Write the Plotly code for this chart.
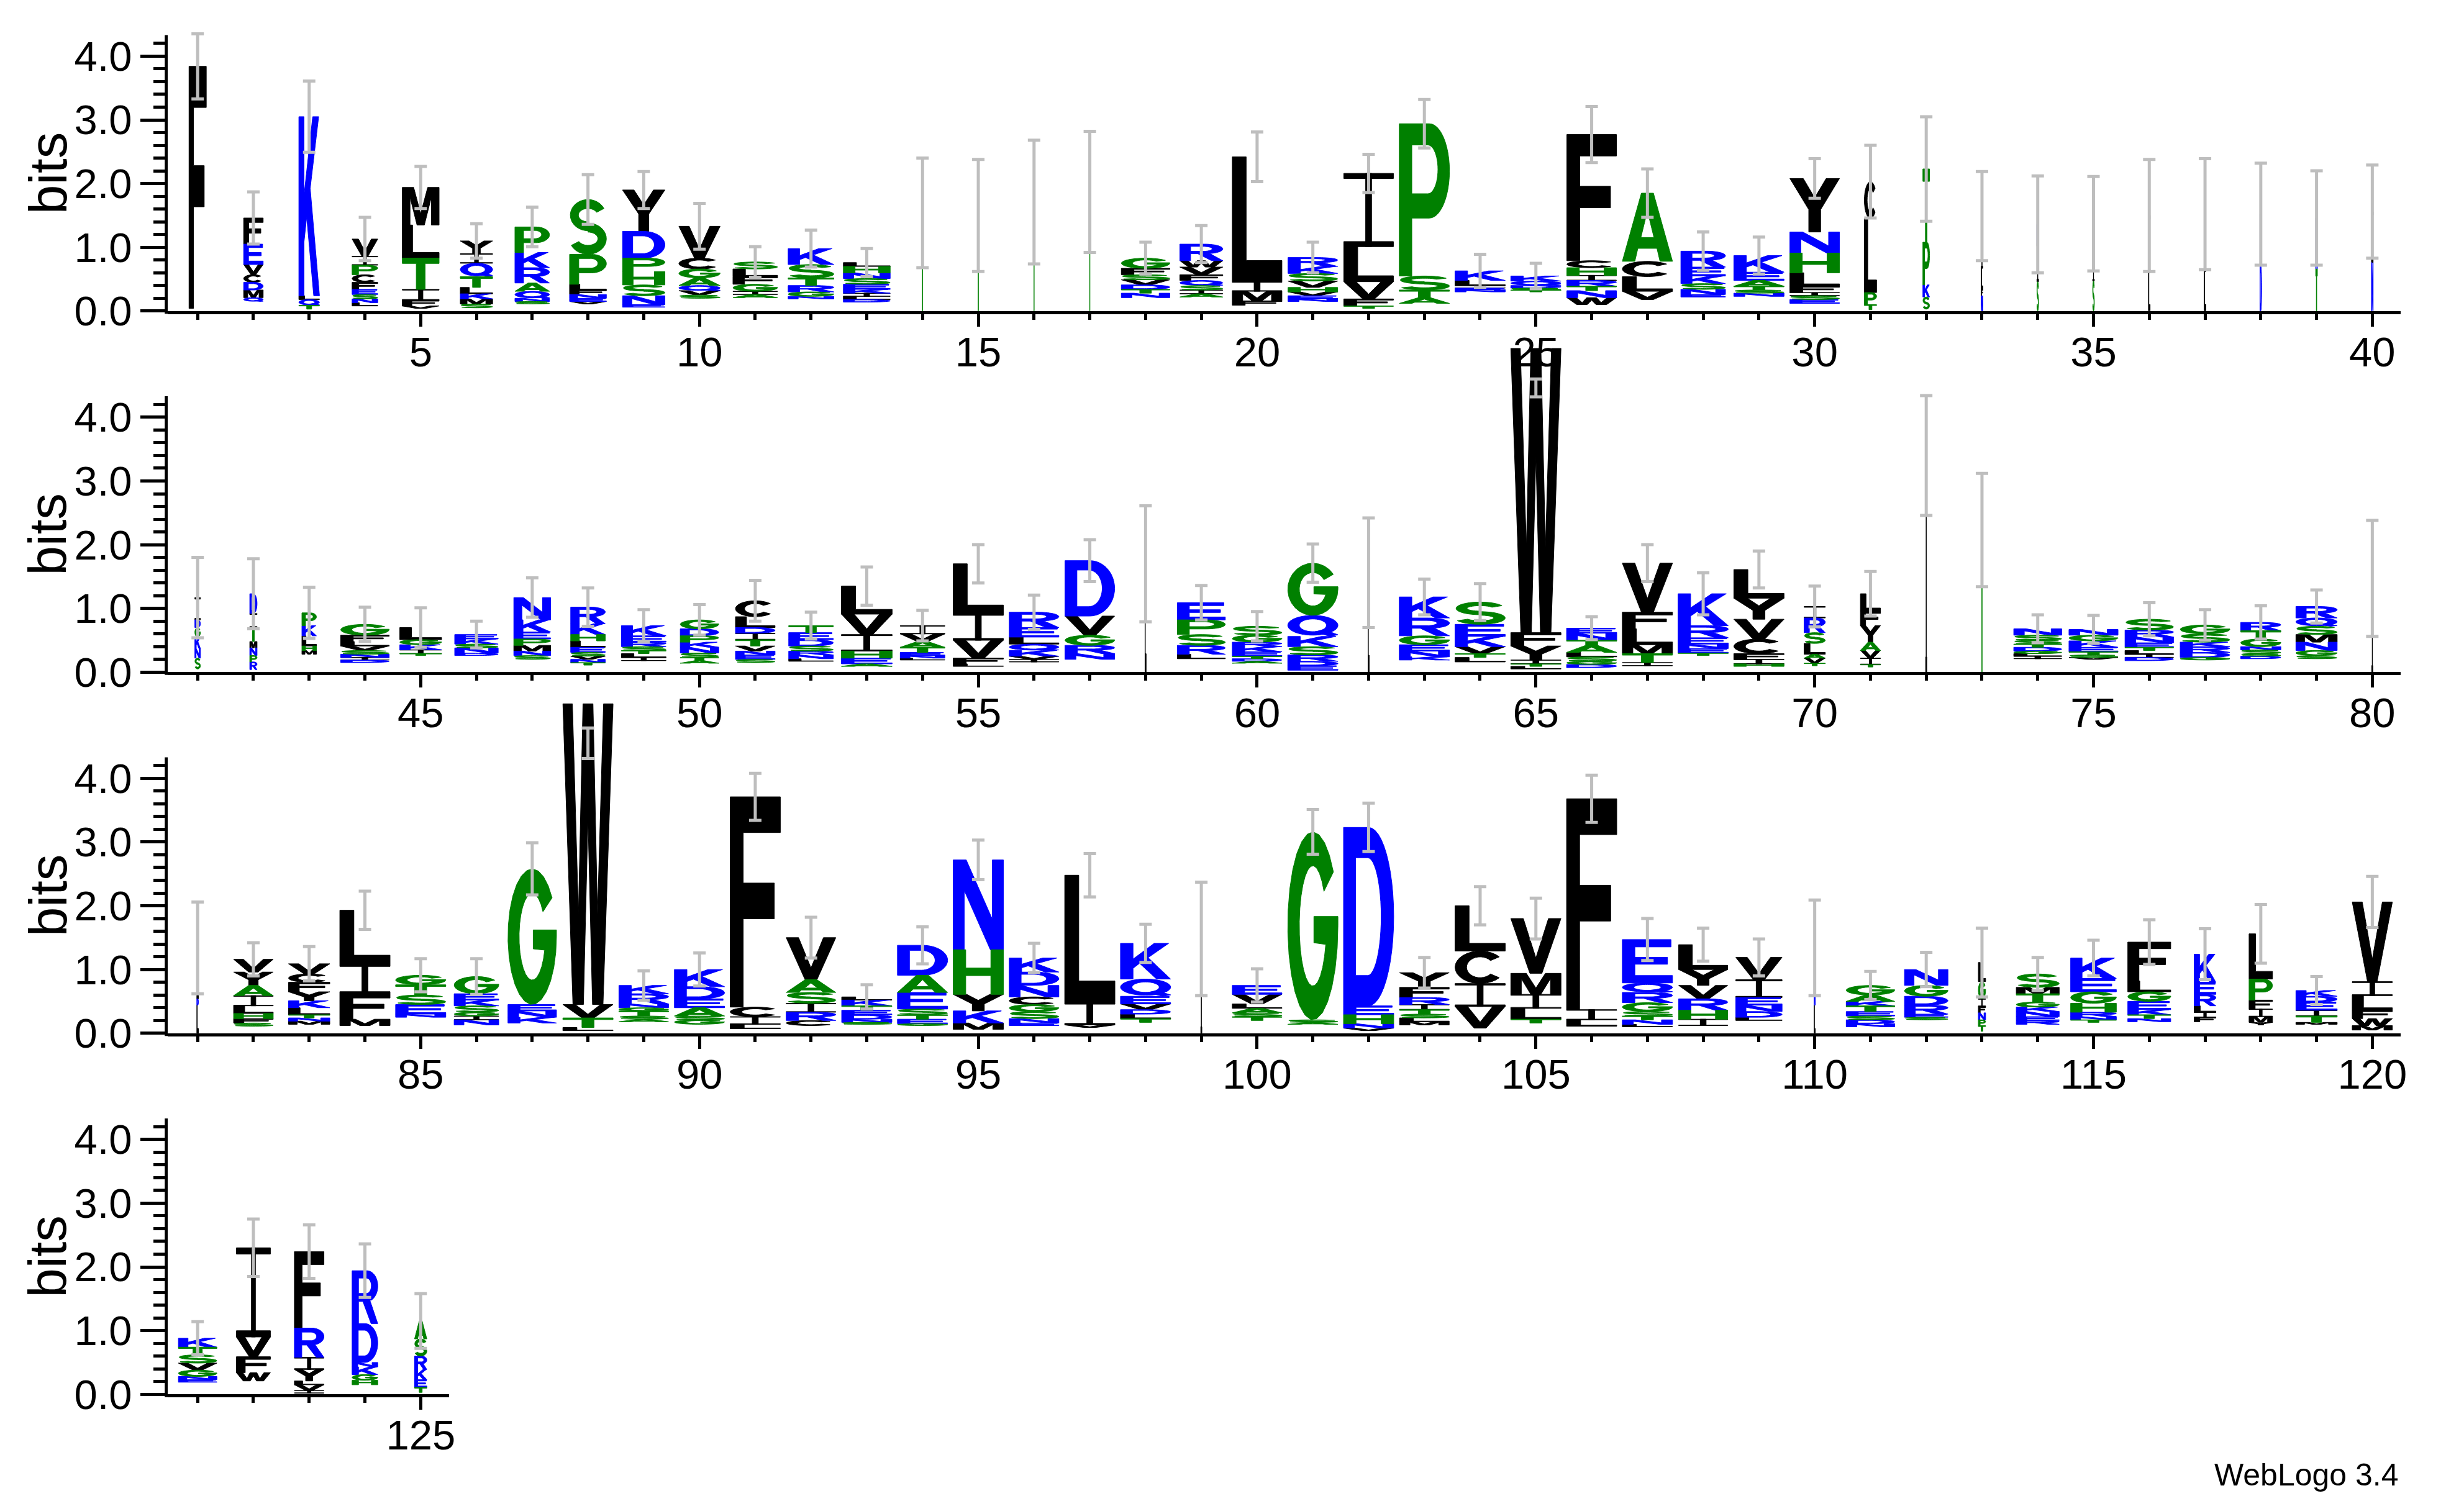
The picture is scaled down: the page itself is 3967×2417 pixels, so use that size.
import math
import plotly.graph_objects as go

# ---------------------------------------------------------------- data
# each stack string lists the letters of one column from top to bottom,
# letter followed by its height in bits
row1_first = 1
row1_info = [3.84, 1.46, 3.05, 1.13, 1.94, 1.10, 1.32, 1.75, 1.90, 1.33,
             0.77, 0.98, 0.76, 1.54, 1.50, 1.71, 1.87, 0.83, 1.05, 2.42,
             0.84, 2.16, 2.94, 0.63, 0.55, 2.77, 1.85, 0.94, 0.87, 2.08,
             2.03, 2.23, 1.49, 1.36, 1.37, 1.50, 1.52, 1.52, 1.46, 1.56]
row1_err = [.51, .41, .56, .34, .33, .27, .31, .39, .29, .36,
            .24, .29, .22, .86, .88, .97, .95, .25, .29, .39,
            .24, .30, .38, .26, .20, .44, .38, .30, .29, .31,
            .57, .82, .70, .76, .74, .88, .87, .80, .74, .73]
row1_width = [.31, .35, .37, .46, .66, .58, .62, .66, .76, .74,
              .80, .82, .84, .02, .02, .02, .02, .87, .77, .89,
              .89, .89, .90, .90, .90, .89, .90, .80, .90, .89,
              .22, .12, .03, .03, .03, .03, .03, .03, .03, .03]
row1_stacks = [
    "F3.80", "F.41 E.32 V.16 C.12 D.12 M.12 Q.06", "K2.81 L.06 Q.09 T.06",
    "V.27 I.14 P.15 C.12 F.11 E.08 S.07 N.06 L.05", "M.59 L.52 T.49 I.17 F.09 V.04",
    "Y.20 I.15 Q.21 T.17 L.10 K.08 M.08 S.06", "P.40 K.24 R.24 A.13 Q.11 N.05 S.04",
    "S.86 P.47 L.09 F.07 N.06 E.05 V.04", "Y.65 D.42 P.21 H.21 S.17 N.14 E.04",
    "V.50 C.17 G.14 A.12 Q.08 V.07 S.05", "S.11 L.12 F.12 G.11 I.05 A.05",
    "K.25 S.21 T.12 R.10 G.07 N.04", "L.06 H.10 N.09 S.09 E.08 K.06 I.05 L.05 D.04",
    "T1.54", "T1.50", "T1.71", "T1.87", "G.16 F.10 S.08 V.08 D.07 T.06 N.07",
    "R.26 W.10 V.12 F.09 Q.08 S.07 I.06 A.05", "L1.96 I.15 M.15 F.07",
    "R.14 K.11 S.12 V.10 H.07 V.06 E.05 N.04", "I1.15 L.55 V.27 F.11 T.04",
    "P2.39 S.22 T.12 A.09", "K.15 L.08 I.04 E.03 N.03", "K.08 Q.07 D.04 S.03 T.03",
    "F1.98 C.11 H.12 I.08 R.09 T.07 N.11 W.11", "A1.07 C.24 L.23 V.13",
    "R.25 E.14 K.12 S.09 N.08 E.04", "K.26 E.13 A.09 T.06 S.05 N.05",
    "Y.84 N.33 H.31 L.21 F.10 I.05 S.06 E.06", "C.58 L1.16 P.19 T.08",
    "T1.15 P.67 K.19 S.19", "T.35 I.47 L.33 F.10 N.24", "N.30 I.60 S.46",
    "T.50 I.40 S.47", "I.90 L.60", "I.90 L.62", "N.80 D.72", "N.80 T.66", "I.80 N.76",
]

row2_first = 41
row2_info = [1.17, 1.23, 0.93, 0.75, 0.70, 0.59, 1.17, 1.02, 0.73, 0.82,
             1.12, 0.73, 1.35, 0.73, 1.70, 0.94, 1.75, 1.70, 1.09, 0.72,
             1.71, 1.56, 1.18, 1.10, 5.08, 0.69, 1.71, 1.23, 1.61, 1.03,
             1.23, 3.40, 2.23, 0.68, 0.67, 0.83, 0.74, 0.78, 1.03, 1.47]
row2_err = [.63, .55, .40, .27, .31, .21, .31, .30, .25, .24,
            .32, .21, .30, .24, .30, .27, .33, .91, .27, .23,
            .30, .86, .28, .29, .14, .18, .29, .33, .29, .32,
            .35, .94, .89, .22, .22, .26, .24, .26, .26, .91]
row2_width = [.10, .13, .26, .87, .75, .78, .66, .62, .80, .69,
              .71, .80, .91, .80, .90, .89, .89, .02, .86, .89,
              .90, .02, .90, .90, .90, .90, .90, .90, .90, .38,
              .36, .02, .02, .86, .88, .87, .89, .72, .74, .02]
row2_stacks = [
    "I.35 D.12 G.15 K.18 N.15 S.17", "D.31 I.22 T.22 M.10 N.12 P.10 R.12",
    "P.20 K.16 L.16 H.07 M.06", "G.17 F.10 L.07 V.07 S.06 N.05 I.04 D.04",
    "L.19 G.08 K.08 I.06 T.03", "E.07 K.08 S.06 N.08 D.04",
    "N.35 K.19 E.11 P.10 M.09 N.07 S.06", "R.26 K.17 H.10 L.10 E.08 S.06 V.05 N.05 T.04",
    "K.16 E.10 R.07 S.06 T.05 L.06 I.05", "G.14 D.11 P.10 K.08 N.09 S.07 T.05 A.04",
    "C.25 L.17 D.09 I.10 T.10 V.08 N.06 E.07 S.05", "T.11 E.11 D.10 S.08 R.06 N.06 L.04",
    "L.44 V.32 I.26 H.11 E.09 A.04", "I.13 V.12 A.09 T.08 E.05 N.04 L.03",
    "L.78 I.42 V.28 F.09 L.04", "R.24 E.15 L.11 Q.10 K.09 V.05 I.04",
    "D.87 V.30 G.16 R.13 N.09", "L1.70", "E.27 P.23 S.17 R.14 L.07",
    "S.14 G.11 R.07 K.08 E.07 T.04 D.04 A.03", "G.82 Q.33 K.16 S.13 R.10 D.07 E.07",
    "L1.56", "K.33 R.28 G.14 E.10 N.09 K.05", "S.35 E.19 K.16 V.11 T.06 L.07",
    "W4.46 F.21 Y.22 I.06 T.04 L.04", "E.08 N.11 T.08 A.11 L.07 S.07 G.05 D.05",
    "V.77 F.26 L.25 M.14 T.14 I.05", "K.50 R.19 E.10 N.07 E.07 T.04",
    "L.45 Y.33 V.31 C.23 F.09 I.07 H.04", "I.18 R.23 S.17 L.17 A.06 V.08 T.04",
    "L.27 F.23 Y.26 A.13 V.12 I.10 T.04", "I3.40", "T2.23",
    "N.10 S.08 S.06 T.05 D.06 G.04 L.04 I.04", "N.09 G.09 K.10 E.07 T.05 S.04 V.03",
    "S.17 R.11 N.09 E.07 T.05 L.06 I.05 D.05", "G.14 S.13 K.07 R.09 D.08 G.04",
    "R.13 T.13 G.12 N.05 S.06 S.04 D.04", "R.18 Q.13 S.13 M.12 N.13 G.08 S.05", "I1.47",
]

row3_first = 81
row3_info = [1.34, 1.16, 1.09, 1.93, 0.91, 0.89, 2.58, 5.17, 0.75, 1.00,
             3.71, 1.50, 0.57, 1.38, 2.72, 1.18, 2.48, 1.41, 1.48, 0.75,
             3.16, 3.23, 0.95, 2.00, 1.80, 3.68, 1.47, 1.39, 1.19, 1.34,
             0.75, 1.00, 1.11, 0.93, 1.18, 1.43, 1.24, 1.56, 0.67, 2.06]
row3_err = [.72, .26, .27, .30, .26, .28, .41, .24, .23, .26,
            .37, .32, .19, .29, .31, .23, .34, .30, .89, .26,
            .35, .38, .24, .30, .32, .37, .33, .26, .29, .75,
            .22, .27, .54, .26, .28, .35, .40, .46, .22, .40]
row3_width = [.03, .71, .74, .90, .90, .80, .87, .90, .89, .90,
              .90, .89, .90, .90, .90, .89, .90, .90, .02, .89,
              .90, .90, .89, .90, .90, .90, .90, .88, .83, .02,
              .87, .78, .13, .77, .82, .77, .39, .42, .74, .72]
row3_stacks = [
    "I.80 D.10 L.44", "V.20 Y.21 A.16 I.16 L.12 H.08 F.07 S.05",
    "V.16 C.13 F.15 Y.14 K.11 L.11 T.05 N.05 M.05", "L.85 I.46 F.40 M.10",
    "G.15 T.16 S.15 E.15 N.05", "G.27 E.10 K.09 S.10 G.06 I.06 N.08",
    "G2.13 E.10 N.10 K.09", "W4.72 V.21 T.15 L.05", "K.13 R.16 N.06 G.05 T.08 S.05 A.04",
    "K.27 D.19 E.14 A.13 S.06 G.07", "F3.30 C.15 I.12 L.07", "V.66 A.20 S.17 I.14 R.13 C.08",
    "L.05 K.09 T.07 E.07 D.07 N.05 S.03", "D.47 A.27 E.26 S.09 T.07 E.07 G.03",
    "N1.41 H.70 Y.26 K.19 M.10", "K.22 D.21 N.18 C.12 G.11 S.11 N.07 E.04",
    "L2.00 I.35 V.04", "K.56 Q.27 E.12 V.09 D.07 L.07 T.06", "I1.48",
    "E.14 V.15 L.07 A.07 S.06 T.06", "G2.95 S.04 A.03", "D2.80 E.14 H.14 N.07 V.04",
    "Y.23 F.16 R.11 I.08 T.07 S.06 L.06 M.05", "L.71 C.51 I.36 V.34",
    "V.86 M.33 I.22 L.17 T.06", "F3.31 I.16 L.10", "E.68 Q.15 R.16 G.14 S.07 T.06 N.07 L.04",
    "L.39 Y.25 V.21 R.18 H.14 I.10", "V.35 I.28 E.12 N.10 D.09 L.05", "G.60 N.30 L.44",
    "G.15 A.10 K.07 T.09 E.07 S.06 D.06 N.05", "N.25 G.17 D.14 R.14 E.05 S.04",
    "L.30 G.27 I.12 F.10 N.11 P.09 T.09", "S.21 M.10 T.13 G.08 K.07 N.08 E.06 R.06",
    "K.32 E.21 G.18 H.14 R.07 N.05 T.04", "F.61 L.17 G.15 E.13 K.08 T.06 N.05",
    "K.44 E.19 R.18 L.10 I.08 F.07", "L.71 P.33 F.14 I.12 M.09 Y.04",
    "K.09 D.09 E.13 I.09 T.10 M.03", "V1.25 I.22 L.23 F.13 W.11 M.07",
]

row4_first = 121
row4_info = [0.88, 2.30, 2.24, 1.94, 1.15]
row4_err = [.26, .45, .42, .42, .43]
row4_width = [.69, .61, .53, .46, .22]
row4_stacks = [
    "K.14 T.12 S.13 V.11 G.10 N.05 E.04", "I1.40 V.31 F.25 W.13",
    "F1.20 R.46 I.19 Y.18 L.06 V.09 I.04", "R.83 D.61 N.07 K.12 G.09 H.07",
    "A.28 S.27 R.21 K.16 E.12 T.08",
]

# error bars whose centre is not the top of the stack
ebar_center = {65: 4.46, 88: 4.55}

# ---------------------------------------------------------------- glyphs
BLACK, BLUE, GREEN = "#000000", "#0000ff", "#008000"
COLOR = {}
for c in "CFILMVWY":
    COLOR[c] = BLACK
for c in "DEKNQR":
    COLOR[c] = BLUE
for c in "AGHPST":
    COLOR[c] = GREEN


def arc(cx, cy, rx, ry, a0, a1, n=24):
    pts = []
    for i in range(n + 1):
        a = math.radians(a0 + (a1 - a0) * i / n)
        pts.append((cx + rx * math.cos(a), cy + ry * math.sin(a)))
    return pts


def band(cx, cy, ro, ri, a0, a1):
    return arc(cx, cy, ro[0], ro[1], a0, a1) + arc(cx, cy, ri[0], ri[1], a1, a0)


def area(poly):
    s = 0.0
    for (x1, y1), (x2, y2) in zip(poly, poly[1:] + poly[:1]):
        s += x1 * y2 - x2 * y1
    return s / 2


def orient(poly, ccw):
    return poly if (area(poly) > 0) == ccw else poly[::-1]


outer = {
    "A": [[(0, 0), (.25, 0), (.31, .19), (.69, .19), (.75, 0), (1, 0), (.62, 1), (.38, 1)]],
    "C": [band(.5, .5, (.5, .5), (.27, .32), 40, 320)],
    "D": [[(0, 0)] + arc(.5, .5, .5, .5, -90, 90) + [(0, 1)]],
    "E": [[(0, 0), (1, 0), (1, .17), (.25, .17), (.25, .43), (.9, .43), (.9, .59),
           (.25, .59), (.25, .83), (.97, .83), (.97, 1), (0, 1)]],
    "F": [[(0, 0), (.26, 0), (.26, .42), (.88, .42), (.88, .59), (.26, .59),
           (.26, .83), (1, .83), (1, 1), (0, 1)]],
    "G": [arc(.5, .5, .5, .5, 35, 360) + [(1, .55), (.52, .55), (.52, .41)]
          + arc(.5, .5, .27, .32, 342, 35)],
    "H": [[(0, 0), (.25, 0), (.25, .42), (.75, .42), (.75, 0), (1, 0), (1, 1),
           (.75, 1), (.75, .59), (.25, .59), (.25, 1), (0, 1)]],
    "I": [[(0, 0), (1, 0), (1, .07), (0, .07)], [(0, .93), (1, .93), (1, 1), (0, 1)],
          [(.44, 0), (.56, 0), (.56, 1), (.44, 1)]],
    "K": [[(0, 0), (.25, 0), (.25, .3), (.38, .44), (.72, 0), (1, 0), (.55, .6),
           (.96, 1), (.67, 1), (.25, .56), (.25, 1), (0, 1)]],
    "L": [[(0, 0), (1, 0), (1, .17), (.28, .17), (.28, 1), (0, 1)]],
    "M": [[(0, 0), (.21, 0), (.21, .74), (.4, 0), (.6, 0), (.79, .74), (.79, 0),
           (1, 0), (1, 1), (.69, 1), (.5, .3), (.31, 1), (0, 1)]],
    "N": [[(0, 0), (.22, 0), (.22, .66), (.74, 0), (1, 0), (1, 1), (.78, 1),
           (.78, .34), (.26, 1), (0, 1)]],
    "P": [[(0, 0), (.25, 0), (.25, .38)] + arc(.6, .69, .4, .31, -90, 90) + [(0, 1)]],
    "Q": [arc(.5, .53, .5, .47, 0, 360, 48), [(.55, .22), (.72, .33), (1, .08), (.84, 0)]],
    "R": [[(0, 0), (.25, 0), (.25, .42), (.42, .42), (.74, 0), (1, 0), (.68, .46)]
          + arc(.58, .71, .42, .29, -70, 90) + [(0, 1)]],
    "S": [band(.5, .715, (.48, .285), (.26, .12), 25, 270),
          band(.5, .285, (.5, .285), (.27, .12), 90, -155)],
    "T": [[(.38, 0), (.62, 0), (.62, .83), (1, .83), (1, 1), (0, 1), (0, .83), (.38, .83)]],
    "V": [[(.38, 0), (.62, 0), (1, 1), (.75, 1), (.5, .28), (.25, 1), (0, 1)]],
    "W": [[(.2, 0), (.41, 0), (.5, .62), (.59, 0), (.8, 0), (1, 1), (.81, 1), (.69, .3),
           (.6, 1), (.4, 1), (.31, .3), (.19, 1), (0, 1)]],
    "Y": [[(.38, 0), (.62, 0), (.62, .42), (1, 1), (.73, 1), (.5, .64), (.27, 1),
           (0, 1), (.38, .42)]],
}
holes = {
    "A": [[(.37, .35), (.63, .35), (.5, .74)]],
    "D": [[(.24, .17)] + arc(.48, .5, .27, .33, -90, 90) + [(.24, .83)]],
    "P": [[(.25, .54)] + arc(.57, .7, .2, .16, -90, 90) + [(.25, .86)]],
    "Q": [arc(.5, .53, .27, .3, 0, 360, 48)],
    "R": [[(.25, .57)] + arc(.55, .715, .2, .145, -90, 90) + [(.25, .86)]],
}
GLYPHS = {}
for k, polys in outer.items():
    GLYPHS[k] = [orient(p, True) for p in polys] + [orient(p, False) for p in holes.get(k, [])]

# ---------------------------------------------------------------- layout
FIG_W, FIG_H = 3967, 2417
AXIS_X = 262.7      # px, y axis line
COL0 = 311.0        # px, centre of the first column of a row
STEP = 90.0         # px per column
BIT_PX = 104.2      # px per bit
BASE0 = 500.5       # px, baseline of first row
ROW_GAP = 590.5
Y_TOP = [4.62, 5.3, 5.3, 4.62]
AXIS_TOP = 4.33
FONT = "Liberation Sans, Arial, sans-serif"

rows = [
    (row1_first, row1_info, row1_err, row1_width, row1_stacks),
    (row2_first, row2_info, row2_err, row2_width, row2_stacks),
    (row3_first, row3_info, row3_err, row3_width, row3_stacks),
    (row4_first, row4_info, row4_err, row4_width, row4_stacks),
]

fig = go.Figure()
shapes, annotations, axes = [], [], {}

for r, (first, info, err, width, stacks) in enumerate(rows):
    sfx = "" if r == 0 else str(r + 1)
    pos = list(range(first, first + len(info)))
    x_lo = first - (COL0 - AXIS_X) / STEP
    x_hi = pos[-1] + 0.51
    px1 = AXIS_X + (x_hi - x_lo) * STEP
    base = BASE0 + r * ROW_GAP
    top_px = base - Y_TOP[r] * BIT_PX

    axes["xaxis" + sfx] = dict(
        domain=[AXIS_X / FIG_W, px1 / FIG_W], range=[x_lo, x_hi], anchor="y" + sfx,
        showline=True, linecolor="black", linewidth=4.5, showgrid=False, zeroline=False,
        ticks="outside", ticklen=20, tickwidth=4.5, tickcolor="black", ticklabelstandoff=-16,
        tickvals=[p for p in pos if p % 5 == 0], ticktext=[str(p) for p in pos if p % 5 == 0],
        tickfont=dict(family=FONT, size=67, color="black"),
        minor=dict(tickvals=[p for p in pos if p % 5], ticks="outside", ticklen=9,
                   tickwidth=4.5, tickcolor="black"),
    )
    axes["yaxis" + sfx] = dict(
        domain=[1 - base / FIG_H, 1 - top_px / FIG_H], range=[0, Y_TOP[r]], anchor="x" + sfx,
        showline=False, showgrid=False, zeroline=False,
        ticks="outside", ticklen=43, tickwidth=4.8, tickcolor="black",
        tickvals=[0, 1, 2, 3, 4], ticktext=["0.0", "1.0", "2.0", "3.0", "4.0"],
        tickfont=dict(family=FONT, size=67, color="black"),
        minor=dict(tickvals=[i / 5 for i in range(1, 22) if i % 5], ticks="outside",
                   ticklen=22, tickwidth=4.8, tickcolor="black"),
    )

    # letters, one combined path per colour
    paths = {BLACK: [], BLUE: [], GREEN: []}
    for p, top, w, stack in zip(pos, info, width, stacks):
        cur = top
        for tok in stack.split():
            letter, h = tok[0], float(tok[1:])
            x0 = p - w / 2
            for poly in GLYPHS[letter]:
                pts = [(x0 + u * w, cur - h + v * h) for u, v in poly]
                paths[COLOR[letter]].append(
                    "M" + "L".join(f"{x:.4f},{y:.4f}" for x, y in pts) + "Z")
            cur -= h
    for col, segs in paths.items():
        if segs:
            shapes.append(dict(type="path", path="".join(segs), xref="x" + sfx, yref="y" + sfx,
                               fillcolor=col, fillrule="nonzero", layer="below",
                               line=dict(color=col, width=1.0)))

    # error bars
    centers = [ebar_center.get(p, t) for p, t in zip(pos, info)]
    fig.add_trace(go.Scatter(
        x=pos, y=centers, mode="markers", xaxis="x" + sfx, yaxis="y" + sfx,
        marker=dict(size=2, color="rgba(0,0,0,0)"),
        error_y=dict(type="data", array=err, color="#bebebe", thickness=5, width=10),
        hoverinfo="skip", showlegend=False,
    ))

    # y axis line (stops at the top tick, not the range top)
    shapes.append(dict(type="line", xref="paper", yref="paper",
                       x0=(AXIS_X - 2.4) / FIG_W, x1=(AXIS_X - 2.4) / FIG_W,
                       y0=1 - (base + 4.5) / FIG_H, y1=1 - (base - AXIS_TOP * BIT_PX) / FIG_H,
                       line=dict(color="black", width=4.8)))

    annotations.append(dict(text="bits", textangle=-90, showarrow=False,
                            xref="paper", x=69 / FIG_W, xanchor="center",
                            yref="y" + sfx, y=2.16, yanchor="middle",
                            font=dict(family=FONT, size=85, color="black")))

annotations.append(dict(text="WebLogo 3.4", showarrow=False, xref="paper", yref="paper",
                        x=3866 / FIG_W, xanchor="right", y=1 - 2404 / FIG_H, yanchor="middle",
                        font=dict(family=FONT, size=50, color="black")))

fig.update_layout(
    width=FIG_W, height=FIG_H, autosize=False,
    margin=dict(l=0, r=0, t=0, b=0),
    paper_bgcolor="white", plot_bgcolor="rgba(0,0,0,0)",
    showlegend=False, shapes=shapes, annotations=annotations, **axes,
)

fig.write_html("out.html")
